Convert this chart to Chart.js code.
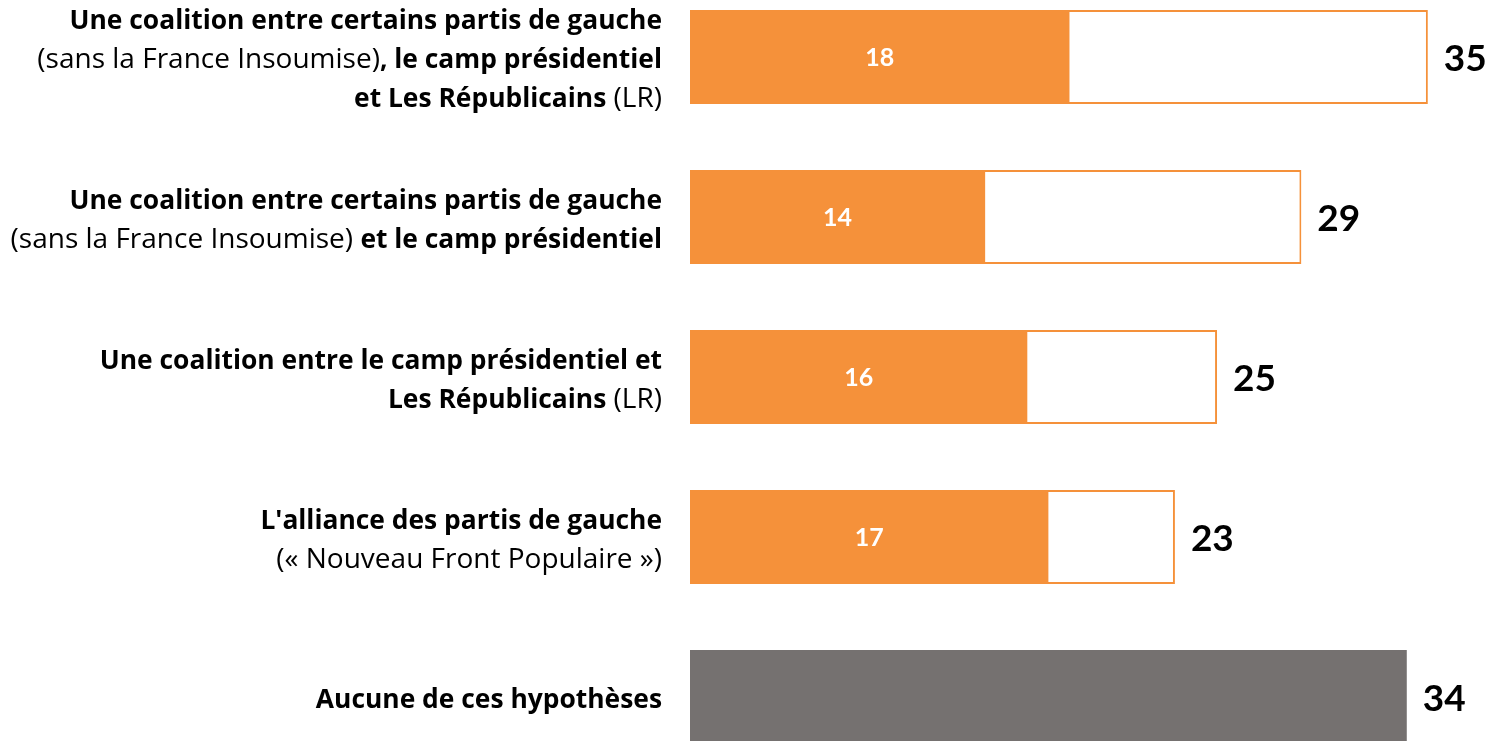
<!DOCTYPE html>
<html>
<head>
<meta charset="utf-8">
<script src="https://cdn.jsdelivr.net/npm/chart.js@4.4.1/dist/chart.umd.min.js"></script>
<style>
    html, body { margin: 0; padding: 0; background: #fff; overflow: hidden; width: 1489px; height: 741px; }
    #wrap { position: absolute; left: 0; top: -23px; width: 1489px; height: 800px; }
</style>
</head>
<body>
<div id="wrap"><canvas id="myChart"></canvas></div>
<script>
const categories = [
    'Une coalition entre certains partis de gauche (sans la France Insoumise), le camp présidentiel et Les Républicains (LR)',
    'Une coalition entre certains partis de gauche (sans la France Insoumise) et le camp présidentiel',
    'Une coalition entre le camp présidentiel et Les Républicains (LR)',
    "L'alliance des partis de gauche (« Nouveau Front Populaire »)",
    'Aucune de ces hypothèses'
];

// label lines, each piece = [text, bold]
const labelLines = [
    [[['Une coalition entre certains partis de gauche', true]],
     [['(sans la France Insoumise)', false], [', le camp présidentiel', true]],
     [['et Les Républicains', true], [' (LR)', false]]],
    [[['Une coalition entre certains partis de gauche', true]],
     [['(sans la France Insoumise) ', false], ['et le camp présidentiel', true]]],
    [[['Une coalition entre le camp présidentiel et', true]],
     [['Les Républicains', true], [' (LR)', false]]],
    [[["L'alliance des partis de gauche", true]],
     [['(« Nouveau Front Populaire »)', false]]],
    [[['Aucune de ces hypothèses', true]]]
];

const certainValues = [18, 14, 16, 17, null];
const totalValues = [35, 29, 25, 23, null];
const aucuneValues = [null, null, null, null, 34];

const ORANGE = '#F5913A';
const GREY = '#757170';
const FONT = '"Open Sans", Lato, sans-serif';
const NUM_FONT = 'Lato, "Open Sans", sans-serif';

const labelsPlugin = {
    id: 'labelsPlugin',
    afterDatasetsDraw(chart) {
        const ctx = chart.ctx;
        const yScale = chart.scales.y;
        const xScale = chart.scales.x;
        const left = chart.chartArea.left;
        ctx.save();

        // category labels on the left, mixed bold / normal
        ctx.textBaseline = 'alphabetic';
        const lineH = 39;
        const fontOf = p => p[1] ? 'bold 26.4px ' + FONT : '28px ' + FONT;
        labelLines.forEach((lines, i) => {
            const yc = yScale.getPixelForValue(i);
            lines.forEach((pieces, j) => {
                const y = yc + 11 + (j - (lines.length - 1) / 2) * lineH;
                let w = 0;
                pieces.forEach(p => {
                    ctx.font = fontOf(p);
                    w += ctx.measureText(p[0]).width;
                });
                let x = left - 28 - w;
                ctx.textAlign = 'left';
                ctx.fillStyle = '#000';
                pieces.forEach(p => {
                    ctx.font = fontOf(p);
                    ctx.fillText(p[0], x, y);
                    x += ctx.measureText(p[0]).width;
                });
            });
        });

        ctx.textBaseline = 'middle';
        // values inside orange bars
        ctx.font = 'bold 25px ' + NUM_FONT;
        ctx.fillStyle = '#fff';
        ctx.textAlign = 'center';
        certainValues.forEach((v, i) => {
            if (v == null) return;
            const x = (xScale.getPixelForValue(0) + xScale.getPixelForValue(v)) / 2;
            ctx.fillText(v, x, yScale.getPixelForValue(i) + 1);
        });

        // totals to the right
        ctx.font = 'bold 37px ' + NUM_FONT;
        ctx.fillStyle = '#000';
        ctx.textAlign = 'left';
        categories.forEach((c, i) => {
            const v = totalValues[i] != null ? totalValues[i] : aucuneValues[i];
            ctx.fillText(v, xScale.getPixelForValue(v) + 16, yScale.getPixelForValue(i) + 2);
        });
        ctx.restore();
    }
};

const ctx = document.getElementById('myChart').getContext('2d');
window.myChart = new Chart(ctx, {
    type: 'bar',
    data: {
        labels: categories,
        datasets: [{
            label: 'Certain',
            data: certainValues,
            backgroundColor: ORANGE,
            borderWidth: 0
        }, {
            label: 'Total',
            data: totalValues,
            backgroundColor: '#fff',
            borderColor: ORANGE,
            borderWidth: 2
        }, {
            label: 'Aucune',
            data: aucuneValues,
            backgroundColor: GREY,
            borderWidth: 0
        }]
    },
    options: {
        indexAxis: 'y',
        responsive: true,
        maintainAspectRatio: false,
        animation: false,
        barPercentage: 0.5875,
        categoryPercentage: 1,
        layout: { padding: { left: 690, right: 0, top: 0, bottom: 0 } },
        plugins: {
            legend: { display: false },
            tooltip: { enabled: false }
        },
        scales: {
            x: {
                min: 0,
                max: 37.9,
                display: false,
                stacked: false
            },
            y: {
                display: false,
                stacked: true
            }
        }
    },
    plugins: [labelsPlugin]
});
</script>
</body>
</html>
